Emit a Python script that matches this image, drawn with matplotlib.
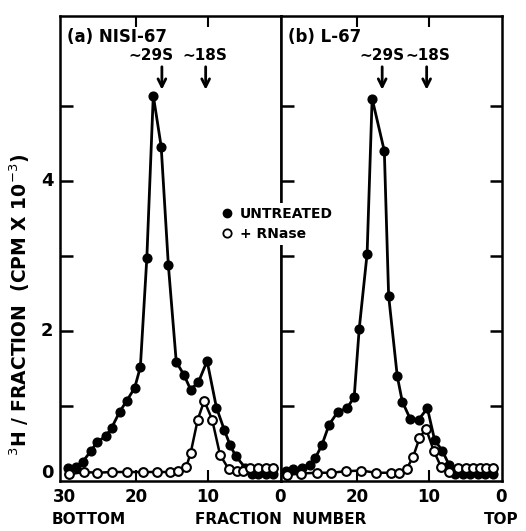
import numpy as np
import matplotlib.pyplot as plt
from matplotlib.lines import Line2D

# fraction numbers and 3H counts (CPM x 10^-3)
a_frac_u = [29.5, 28.4, 27.4, 26.3, 25.4, 24.2, 23.4, 22.3, 21.3, 20.2, 19.4, 18.5, 17.6, 16.5,
            15.5, 14.4, 13.3, 12.4, 11.3, 10.1, 8.8, 7.7, 6.9, 6.1, 4.8, 3.9, 3.0, 1.9, 0.9]
a_cpm_u = [0.18, 0.19, 0.26, 0.40, 0.52, 0.60, 0.71, 0.92, 1.07, 1.24, 1.52, 2.97, 5.14, 4.46,
           2.88, 1.59, 1.41, 1.22, 1.32, 1.60, 0.98, 0.68, 0.48, 0.33, 0.18, 0.10, 0.09, 0.09, 0.09]
a_frac_r = [29.4, 27.2, 25.4, 23.4, 21.3, 19.1, 17.1, 15.3, 14.2, 13.0, 12.4, 11.4, 10.5, 9.4,
            8.3, 7.1, 6.0, 5.1, 4.1, 3.0, 1.9, 0.9]
a_cpm_r = [0.09, 0.12, 0.11, 0.12, 0.12, 0.12, 0.12, 0.12, 0.13, 0.19, 0.37, 0.82, 1.07, 0.82,
           0.35, 0.16, 0.13, 0.13, 0.17, 0.17, 0.17, 0.17]

b_frac_u = [29.9, 28.9, 27.7, 26.6, 25.8, 24.9, 23.9, 22.7, 21.4, 20.4, 19.7, 18.6, 17.9, 16.2,
            15.6, 14.4, 13.7, 12.6, 11.4, 10.2, 9.2, 8.1, 7.2, 6.3, 5.2, 4.2, 3.1, 2.1, 1.0]
b_cpm_u = [0.14, 0.16, 0.18, 0.22, 0.31, 0.48, 0.75, 0.92, 0.97, 1.12, 2.03, 3.03, 5.10, 4.40,
           2.47, 1.40, 1.06, 0.83, 0.82, 0.97, 0.55, 0.40, 0.22, 0.10, 0.09, 0.09, 0.09, 0.09, 0.09]
b_frac_r = [29.8, 27.8, 25.6, 23.6, 21.6, 19.4, 17.4, 15.3, 14.1, 13.1, 12.2, 11.3, 10.4, 9.3,
            8.3, 7.2, 5.9, 4.8, 3.9, 2.9, 2.0, 1.1]
b_cpm_r = [0.08, 0.10, 0.11, 0.11, 0.13, 0.14, 0.11, 0.11, 0.11, 0.16, 0.32, 0.57, 0.70, 0.40,
           0.19, 0.12, 0.18, 0.18, 0.18, 0.18, 0.18, 0.18]

# sedimentation markers: arrow position and label position (fraction number)
a_arrows = [16.4, 10.3]
b_arrows = [16.5, 10.3]
marker_labels = ["\u223c29S", "\u223c18S"]

panels = [
    ("(a) NISI-67", a_frac_u, a_cpm_u, a_frac_r, a_cpm_r, a_arrows, [17.9, 10.4]),
    ("(b) L-67", b_frac_u, b_cpm_u, b_frac_r, b_cpm_r, b_arrows, [16.6, 10.2]),
]

fig = plt.figure(figsize=(5.26, 5.31), dpi=100)
bold = dict(fontweight="bold", family="DejaVu Sans")

x0, xm, x1 = 60 / 526, 281 / 526, 502 / 526
y0, y1 = 1 - 481 / 531, 1 - 16 / 531
axes = [fig.add_axes([x0, y0, xm - x0, y1 - y0]), fig.add_axes([xm, y0, x1 - xm, y1 - y0])]

for i, (ax, (title, fu, cu, fr, cr, arrows, tx)) in enumerate(zip(axes, panels)):
    ax.plot(fu, cu, "-o", color="black", lw=2, ms=6.3, mfc="black", mec="black", zorder=3)
    ax.plot(fr, cr, "-o", color="black", lw=1.8, ms=6.3, mfc="white", mec="black", mew=1.5, zorder=4)
    ax.set_xlim(30.6, -0.2)
    ax.set_ylim(0, 6.2)
    for s in ax.spines.values():
        s.set_linewidth(1.8)
    ax.set_yticks([1, 2, 3, 4, 5])
    ax.set_xticks([20, 10])
    ax.tick_params(axis="y", direction="in", length=9, width=1.8, left=True, right=(i == 1),
                   labelleft=False)
    ax.tick_params(axis="x", direction="in", length=8, width=1.5, top=True, labelbottom=False)
    ax.text(0.03, 0.955, title, transform=ax.transAxes, fontsize=12,
            va="center", ha="left", **bold)
    for xa, xt, t in zip(arrows, tx, marker_labels):
        ax.text(xt, 5.67, t, ha="center", va="center", fontsize=11, **bold)
        ax.annotate("", xy=(xa, 5.18), xytext=(xa, 5.56),
                    arrowprops=dict(arrowstyle="->", lw=2, color="black", mutation_scale=14))

# y tick labels only on the left panel
for v in [0, 2, 4]:
    axes[0].text(-0.03, v + (0.1 if v == 0 else 0), str(v), transform=axes[0].get_yaxis_transform(),
                 ha="right", va="center", fontsize=13, **bold)

# x tick labels along the bottom
for ax, ticks in [(axes[0], [30, 20, 10, 0]), (axes[1], [20, 10, 0])]:
    for t in ticks:
        ax.text(t, -0.034, str(t), transform=ax.get_xaxis_transform(), ha="center", va="center",
                fontsize=12, **bold)

fig.text(52 / 526, 1 - 519 / 531, "BOTTOM", fontsize=11, va="center", ha="left", **bold)
fig.text(195 / 526, 1 - 519 / 531, "FRACTION  NUMBER", fontsize=11, va="center", ha="left", **bold)
fig.text(519 / 526, 1 - 519 / 531, "TOP", fontsize=11, va="center", ha="right", **bold)
fig.text(20 / 526, 1 - 305 / 531, r"$^{3}$H / FRACTION  (CPM X 10$^{-3}$)", rotation=90,
         fontsize=13.5, va="center", ha="center", **bold)

h_u = Line2D([], [], ls="none", marker="o", ms=6, mfc="black", mec="black")
h_r = Line2D([], [], ls="none", marker="o", ms=6, mfc="white", mec="black", mew=1.3)
leg = fig.legend([h_u, h_r], ["UNTREATED", "+ RNase"], loc="center left",
                 bbox_to_anchor=(212 / 526, 1 - 224 / 531), frameon=True, handlelength=0.6,
                 handletextpad=0.6, labelspacing=0.45, borderpad=0.3,
                 prop=dict(weight="bold", size=10))
leg.get_frame().set_facecolor("white")
leg.get_frame().set_edgecolor("none")
leg.get_frame().set_alpha(1)

fig.savefig("out.png", dpi=100)
